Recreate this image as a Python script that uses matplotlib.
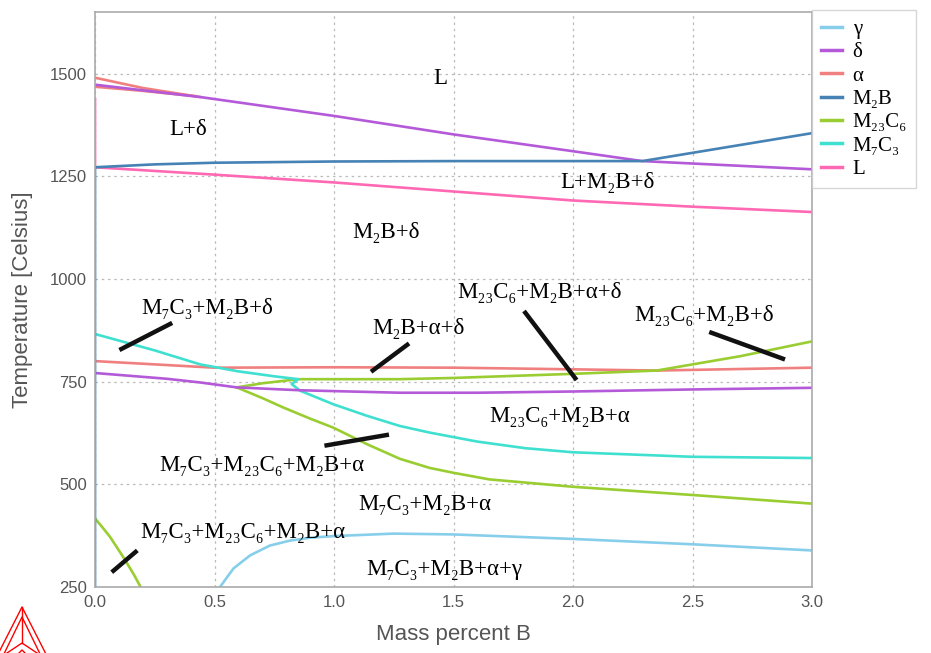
import matplotlib
matplotlib.use("Agg")
import matplotlib.pyplot as plt
from matplotlib.lines import Line2D

# phase boundary curves: (mass % B, T in Celsius)
gamma_x = [0.523, 0.579, 0.649, 0.732, 0.816, 0.9, 1.0, 1.25, 1.5, 2.0, 2.5, 3.0]
gamma_t = [250, 295, 327, 351, 363, 370, 374, 380, 378, 367, 354, 339]

delta_hi_x = [0.0, 0.44, 1.0, 1.5, 2.0, 2.29, 3.0]
delta_hi_t = [1473, 1443, 1397, 1352, 1311, 1287, 1267]
delta_lo_x = [0.0, 0.3, 0.44, 0.593, 0.858, 1.276, 1.6, 2.0, 2.5, 3.0]
delta_lo_t = [771, 757, 748, 736, 729, 723, 723, 726, 731, 735]

alpha_a_x = [0.0, 0.2, 0.44]
alpha_a_t = [1490, 1465, 1443]
alpha_b_x = [0.0, 0.2, 0.42]
alpha_b_t = [1468, 1458, 1445]
alpha_lo_x = [0.0, 0.25, 0.5, 1.0, 1.5, 2.0, 2.35, 3.0]
alpha_lo_t = [800, 792, 784, 785, 784, 780, 777, 784]

m2b_x = [0.0, 0.0, 0.25, 0.5, 1.0, 1.5, 2.0, 2.29, 3.0]
m2b_t = [250, 1272, 1279, 1283, 1286, 1287, 1287, 1287, 1355]

m23_up_x = [0.593, 0.7, 0.85, 1.276, 1.5, 2.0, 2.35, 2.7, 3.0]
m23_up_t = [736, 746, 756, 756, 759, 769, 777, 812, 848]
m23_lo_x = [0.593, 0.7, 0.788, 0.9, 0.997, 1.137, 1.276, 1.4, 1.5, 1.65, 2.0, 2.5, 3.0]
m23_lo_t = [736, 710, 687, 660, 638, 598, 562, 540, 528, 512, 494, 474, 453]
m23_c_x = [0.0, 0.03, 0.063, 0.118, 0.16, 0.191]
m23_c_t = [417, 396, 372, 323, 283, 250]

m7_x = [0.0, 0.25, 0.44, 0.6, 0.75, 0.85, 0.823, 0.858, 0.997, 1.137, 1.276,
        1.4, 1.5, 1.6, 1.8, 2.0, 2.5, 3.0]
m7_t = [866, 826, 792, 775, 763, 756, 744, 728, 695, 667, 642,
        626, 615, 604, 588, 578, 567, 564]

liq_x = [0.0, 0.0, 0.0, 0.5, 1.0, 1.5, 2.0, 2.5, 3.0]
liq_t = [1438, 1272, 1272, 1254, 1235, 1213, 1191, 1176, 1163]

# phase field labels
region_labels = ["L", "L+δ", "L+M₂B+δ", "M₂B+δ", "M₇C₃+M₂B+δ", "M₂₃C₆+M₂B+α+δ",
                 "M₂B+α+δ", "M₂₃C₆+M₂B+δ", "M₂₃C₆+M₂B+α", "M₇C₃+M₂₃C₆+M₂B+α",
                 "M₇C₃+M₂B+α", "M₇C₃+M₂₃C₆+M₂B+α", "M₇C₃+M₂B+α+γ"]
region_x = [1.443, 0.39, 2.145, 1.218, 0.471, 1.862, 1.352, 2.548, 1.946, 0.70, 1.379, 0.62, 1.46]
region_t = [1488, 1364, 1235, 1113, 929, 968, 880, 912, 664, 546, 451, 383, 292]

# black pointer strokes: (x0, t0, x1, t1)
pointers = [(0.102, 827, 0.323, 893),
            (1.155, 774, 1.314, 843),
            (1.795, 922, 2.015, 754),
            (2.570, 871, 2.887, 804),
            (0.960, 594, 1.230, 621),
            (0.070, 286, 0.177, 339)]

c_gamma = "#87ceeb"
c_delta = "#b45ad8"
c_alpha = "#f08080"
c_m2b = "#4682b4"
c_m23 = "#9acd32"
c_m7 = "#40e0d0"
c_liq = "#ff69b4"

serif = ["Liberation Serif", "DejaVu Serif"]
sans = ["Liberation Sans", "DejaVu Sans"]

fig = plt.figure(figsize=(9.31, 6.53), dpi=100)
ax = fig.add_axes([95 / 931, 1 - 587 / 653, (812 - 95) / 931, (587 - 12) / 653])

lw = 1.9
ax.plot(alpha_a_x, alpha_a_t, color=c_alpha, lw=lw)
ax.plot(alpha_b_x, alpha_b_t, color=c_alpha, lw=lw)
ax.plot(alpha_lo_x, alpha_lo_t, color=c_alpha, lw=lw)
ax.plot(gamma_x, gamma_t, color=c_gamma, lw=lw)
ax.plot(m23_up_x, m23_up_t, color=c_m23, lw=lw)
ax.plot(m23_lo_x, m23_lo_t, color=c_m23, lw=lw)
ax.plot(m23_c_x, m23_c_t, color=c_m23, lw=lw)
ax.plot(m7_x, m7_t, color=c_m7, lw=lw)
ax.plot(delta_hi_x, delta_hi_t, color=c_delta, lw=lw)
ax.plot(delta_lo_x, delta_lo_t, color=c_delta, lw=lw)
ax.plot(liq_x, liq_t, color=c_liq, lw=lw)
ax.plot(m2b_x, m2b_t, color=c_m2b, lw=lw)

for x0, t0, x1, t1 in pointers:
    ax.plot([x0, x1], [t0, t1], color="#111111", lw=3.2, solid_capstyle="butt")

for txt, x, t in zip(region_labels, region_x, region_t):
    ax.text(x, t, txt, ha="center", va="center", fontsize=16.5, family=serif)

ax.set_xlim(0, 3.0)
ax.set_ylim(250, 1650)
ax.set_xticks([0.0, 0.5, 1.0, 1.5, 2.0, 2.5, 3.0])
ax.set_yticks([250, 500, 750, 1000, 1250, 1500])
ax.grid(True, linestyle=(0, (2, 3)), color="#bbbbbb", lw=0.9)
ax.tick_params(length=0, labelsize=12, labelcolor="#555555", pad=6)
for lab in ax.get_xticklabels() + ax.get_yticklabels():
    lab.set_family(sans)
for sp in ax.spines.values():
    sp.set_color("#aaaaaa")
    sp.set_linewidth(1.2)
ax.set_xlabel("Mass percent B", fontsize=16, color="#555555", family=sans, labelpad=10)
ax.set_ylabel("Temperature [Celsius]", fontsize=16, color="#555555", family=sans, labelpad=12)

handles = [Line2D([], [], color=c, lw=2.5) for c in
           [c_gamma, c_delta, c_alpha, c_m2b, c_m23, c_m7, c_liq]]
names = ["γ", "δ", "α", "M₂B", "M₂₃C₆", "M₇C₃", "L"]
leg = fig.legend(handles, names, loc="upper left", bbox_to_anchor=(812 / 931, 1 - 10 / 653),
                 borderaxespad=0, prop={"family": serif, "size": 15}, frameon=True,
                 fancybox=False, labelspacing=0.18, handlelength=1.0, handletextpad=0.5,
                 borderpad=0.45)
leg.get_frame().set_edgecolor("#cccccc")
leg.get_frame().set_linewidth(1.0)

# thermo-calc style logo, bottom left
def px_line(xs, ys):
    fig.add_artist(Line2D([v / 931 for v in xs], [1 - v / 653 for v in ys],
                          color="red", lw=1.0, transform=fig.transFigure))

px_line([-6, 22, 50], [662, 607, 662])
px_line([0, 22, 44], [662, 617, 662])
px_line([22, 22], [607, 643])
px_line([4, 22, 40], [655, 643, 655])
px_line([10, 22, 34], [662, 650, 662])

fig.savefig("out.png", dpi=100)
